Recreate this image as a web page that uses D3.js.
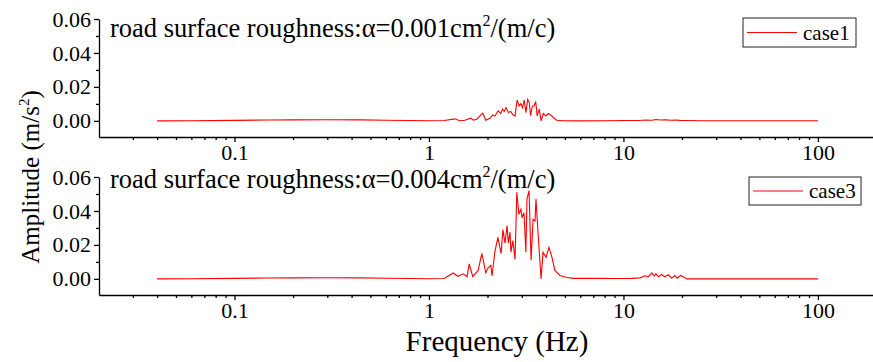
<!DOCTYPE html>
<html>
<head>
<meta charset="utf-8">
<script src="https://cdn.jsdelivr.net/npm/d3@7"></script>
<style>
  body { margin: 0; background: #fff; }
  svg { display: block; }
  svg text { font-family: "Liberation Serif", "Times New Roman", serif; fill: #000; }
</style>
</head>
<body>
<svg id="chart" width="873" height="362"></svg>
<script>
// case1 spectrum (alpha = 0.001)
const freqCase1 = [0.04, 0.06, 0.1, 0.15, 0.2, 0.3, 0.45, 0.6, 0.8, 1.0, 1.2, 1.36, 1.44, 1.53, 1.64, 1.69, 1.76, 1.89, 1.96, 2.06, 2.13, 2.18, 2.27, 2.34, 2.39, 2.44, 2.49, 2.56, 2.63, 2.69, 2.77, 2.84, 2.91, 2.97, 3.03, 3.09, 3.15, 3.22, 3.28, 3.33, 3.40, 3.47, 3.54, 3.60, 3.69, 3.77, 3.87, 4.0, 4.11, 4.22, 4.36, 4.54, 4.89, 5.98, 8, 10, 12, 13, 14, 14.7, 15.5, 16.5, 17.5, 18.5, 19.5, 21, 25, 35, 50, 70, 100];
const ampCase1 = [0, 0.0001, 0.0003, 0.0005, 0.0006, 0.0007, 0.0006, 0.0004, 0.0002, 0.0001, 0.0002, 0.0012, 0.0001, 0.0004, 0.0016, 0.0004, 0.0010, 0.0045, 0.0004, 0.0015, 0.0035, 0.0028, 0.0059, 0.0043, 0.0069, 0.0055, 0.0078, 0.0049, 0.0055, 0.0039, 0.0029, 0.0122, 0.0088, 0.0102, 0.0078, 0.0122, 0.0049, 0.0127, 0.0108, 0.0030, 0.0088, 0.0088, 0.0114, 0.0029, 0.0069, 0.0000, 0.0043, 0.0029, 0.0043, 0.0035, 0.0020, 0.0004, 0.0001, 0.0000, 0.0001, 0.0002, 0.0002, 0.0005, 0.0004, 0.0008, 0.0005, 0.0006, 0.0004, 0.0005, 0.0003, 0.0002, 0.0001, 0.0001, 0.0001, 0.0001, 0.0001];

// case3 spectrum (alpha = 0.004)
const freqCase3 = [0.04, 0.06, 0.1, 0.15, 0.2, 0.3, 0.45, 0.6, 0.8, 1.0, 1.2, 1.33, 1.41, 1.50, 1.57, 1.61, 1.68, 1.79, 1.87, 1.96, 2.01, 2.08, 2.11, 2.18, 2.26, 2.35, 2.40, 2.46, 2.52, 2.56, 2.61, 2.64, 2.70, 2.77, 2.83, 2.90, 2.97, 3.01, 3.08, 3.15, 3.19, 3.27, 3.35, 3.43, 3.51, 3.55, 3.64, 3.68, 3.77, 3.86, 4.00, 4.09, 4.14, 4.29, 4.44, 4.72, 5.13, 5.50, 7, 9, 11, 12.2, 12.9, 13.4, 14.0, 14.4, 14.7, 15.1, 15.7, 16.3, 17.0, 17.7, 18.4, 18.9, 19.7, 20.5, 21.2, 30, 50, 100];
const ampCase3 = [0, 0.0001, 0.0003, 0.0005, 0.0006, 0.0007, 0.0006, 0.0004, 0.0002, 0.0001, 0.0002, 0.0035, 0.0015, 0.0030, 0.0013, 0.0088, 0.0013, 0.0050, 0.0150, 0.0035, 0.0064, 0.0080, 0.0018, 0.0156, 0.0245, 0.0150, 0.0290, 0.0210, 0.0314, 0.0210, 0.0275, 0.0157, 0.0225, 0.0114, 0.0510, 0.0380, 0.0410, 0.0360, 0.0390, 0.0157, 0.0470, 0.0520, 0.0110, 0.0350, 0.0340, 0.0470, 0.0266, 0.0186, 0.0000, 0.0157, 0.0127, 0.0166, 0.0186, 0.0127, 0.0050, 0.0020, 0.0008, 0.0003, 0.0003, 0.0002, 0.0003, 0.0006, 0.0018, 0.0012, 0.0035, 0.0017, 0.0030, 0.0012, 0.0026, 0.0012, 0.0024, 0.0004, 0.0020, 0.0004, 0.0020, 0.0010, 0, 0, 0, 0];

const yMajorTicks = [0, 0.02, 0.04, 0.06];
const yMinorTicks = [0.01, 0.03, 0.05];
const xMajorTicks = [0.1, 1, 10, 100];
const xTickLabels = ["0.1", "1", "10", "100"];
const legendNames = ["case1", "case3"];
const roughness = ["0.001", "0.004"];

const svg = d3.select("#chart");

const x = d3.scaleLog().domain([0.0201, 192]).range([99, 873]);
const xMinor = [];
[0.01, 0.1, 1, 10, 100].forEach(d => {
  for (let k = 2; k <= 9; k++) {
    const v = d * k;
    if (v > x.domain()[0] && v < x.domain()[1]) xMinor.push(v);
  }
});

const panels = [
  { freq: freqCase1, amp: ampCase1, top: 19, textY: 37, legend: [743, 18, 113, 29] },
  { freq: freqCase3, amp: ampCase3, top: 177, textY: 188, legend: [749, 177, 112, 28] }
];

panels.forEach((p, i) => {
  const y = d3.scaleLinear().domain([-0.0095, 0.06]).range([p.top + 118, p.top]);
  const g = svg.append("g");

  // x axis
  g.append("g").attr("transform", `translate(0,${y.range()[0]})`)
    .call(d3.axisBottom(x).tickValues(xMajorTicks).tickSize(5).tickSizeOuter(0)
      .tickFormat((d, j) => xTickLabels[j]).tickPadding(2));
  g.append("g").attr("transform", `translate(0,${y.range()[0]})`)
    .call(d3.axisBottom(x).tickValues(xMinor).tickSize(3).tickSizeOuter(0).tickFormat(""))
    .select(".domain").remove();

  // y axis
  g.append("g").attr("transform", "translate(99,0)")
    .call(d3.axisLeft(y).tickValues(yMajorTicks).tickSize(5).tickSizeOuter(0)
      .tickFormat(d3.format(".2f")).tickPadding(3));
  g.append("g").attr("transform", "translate(99,0)")
    .call(d3.axisLeft(y).tickValues(yMinorTicks).tickSize(3).tickSizeOuter(0).tickFormat(""))
    .select(".domain").remove();

  g.selectAll(".domain, .tick line").attr("stroke", "#000").attr("stroke-width", 1.3);
  g.selectAll(".tick text").attr("font-size", 22);

  // spectrum line
  const line = d3.line().x((d, j) => x(p.freq[j])).y(d => y(d));
  g.append("path").datum(p.amp)
    .attr("d", line)
    .attr("fill", "none")
    .attr("stroke", "#ff0000")
    .attr("stroke-width", 1.1);

  // annotation
  const t = g.append("text").attr("x", 110).attr("y", p.textY).attr("font-size", 26.5);
  t.append("tspan").text("road surface roughness:α=" + roughness[i] + "cm");
  t.append("tspan").text("2").attr("font-size", 16).attr("dy", -11);
  t.append("tspan").text("/(m/c)").attr("dy", 11);

  // legend
  const [lx, ly, lw, lh] = p.legend;
  g.append("rect").attr("x", lx).attr("y", ly).attr("width", lw).attr("height", lh)
    .attr("fill", "#fff").attr("stroke", "#222").attr("stroke-width", 1);
  g.append("line").attr("x1", lx + 4).attr("x2", lx + 54)
    .attr("y1", ly + lh / 2).attr("y2", ly + lh / 2)
    .attr("stroke", "#ff0000").attr("stroke-width", 1.1);
  g.append("text").attr("x", lx + 60).attr("y", ly + lh / 2 + 7)
    .attr("font-size", 21).text(legendNames[i]);
});

// axis titles
const yTitle = svg.append("text")
  .attr("transform", "translate(39,177) rotate(-90)")
  .attr("text-anchor", "middle")
  .attr("font-size", 25);
yTitle.append("tspan").text("Amplitude (m/s");
yTitle.append("tspan").text("2").attr("font-size", 15).attr("dy", -10);
yTitle.append("tspan").text(")").attr("dy", 10);

svg.append("text")
  .attr("x", 497).attr("y", 351)
  .attr("text-anchor", "middle")
  .attr("font-size", 29)
  .text("Frequency (Hz)");
</script>
</body>
</html>
